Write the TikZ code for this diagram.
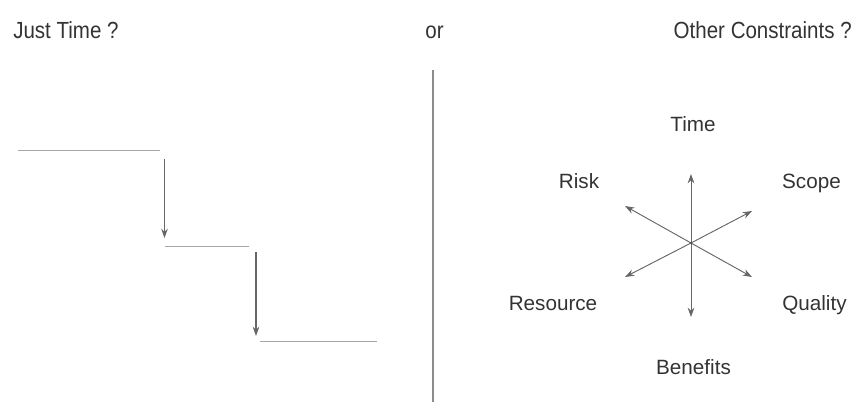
\documentclass[tikz,border=0pt]{standalone}
\usepackage{fontspec}
\setmainfont{Liberation Sans}
\newfontfamily\topfont[FakeStretch=0.88]{Liberation Sans}
\usetikzlibrary{arrows.meta}
\begin{document}
\begin{tikzpicture}[x=0.75pt,y=-0.75pt,
  lbl/.style={font=\fontsize{15.5}{18}\selectfont, text=black!80, inner sep=0pt, anchor=base},
  ttl/.style={font=\topfont\fontsize{17.5}{20}\selectfont, text=black!80, inner sep=0pt},
  hline/.style={draw=black!35, line width=1.3pt},
  varrow/.style={draw=black!60, line width=0.8pt, -{Stealth[length=7pt,width=5pt]}},
  sarrow/.style={draw=black!60, line width=0.7pt, -{Stealth[length=7pt,width=5pt]}}]
\useasboundingbox (0,0) rectangle (856,406);
% titles
\node[ttl, anchor=base west] (jt) at (13,39) {Just Time ?};
\node[ttl, anchor=base] (or) at (434.5,39) {or};
\node[ttl, anchor=base east] (oc) at (852,39) {Other Constraints ?};
% divider
\coordinate (d1) at (433,70);
\coordinate (d2) at (433,402);
\draw[draw=black!45, line width=1pt] (d1) -- (d2);
% steps
\coordinate (a1) at (18,150.5); \coordinate (a2) at (160,150.5);
\coordinate (b1) at (165,246.5); \coordinate (b2) at (249,246.5);
\coordinate (c1) at (260,341.5); \coordinate (c2) at (377,341.5);
\draw[hline] (a1) -- (a2);
\draw[hline] (b1) -- (b2);
\draw[hline] (c1) -- (c2);
\coordinate (p1) at (164.5,159); \coordinate (p2) at (164.5,238);
\coordinate (q1) at (256,252); \coordinate (q2) at (256,336);
\draw[varrow] (p1) -- (p2);
\draw[varrow] (q1) -- (q2);
% star
\coordinate (o) at (691,243);
\coordinate (tU) at (691,174);
\coordinate (tD) at (691,317);
\coordinate (tUL) at (625,206);
\coordinate (tUR) at (752,211);
\coordinate (tDL) at (625,277);
\coordinate (tDR) at (752,277);
\foreach \t in {tU,tD,tUL,tUR,tDL,tDR} \draw[sarrow] (o) -- (\t);
\fill[black!70] (o) circle (1.2);
\node[lbl] (time) at (693,132) {Time};
\node[lbl] (risk) at (579,188) {Risk};
\node[lbl] (scope) at (811.5,188) {Scope};
\node[lbl] (res) at (553,310) {Resource};
\node[lbl] (qual) at (814.5,310) {Quality};
\node[lbl] (ben) at (693.5,374) {Benefits};
\end{tikzpicture}
\end{document}
